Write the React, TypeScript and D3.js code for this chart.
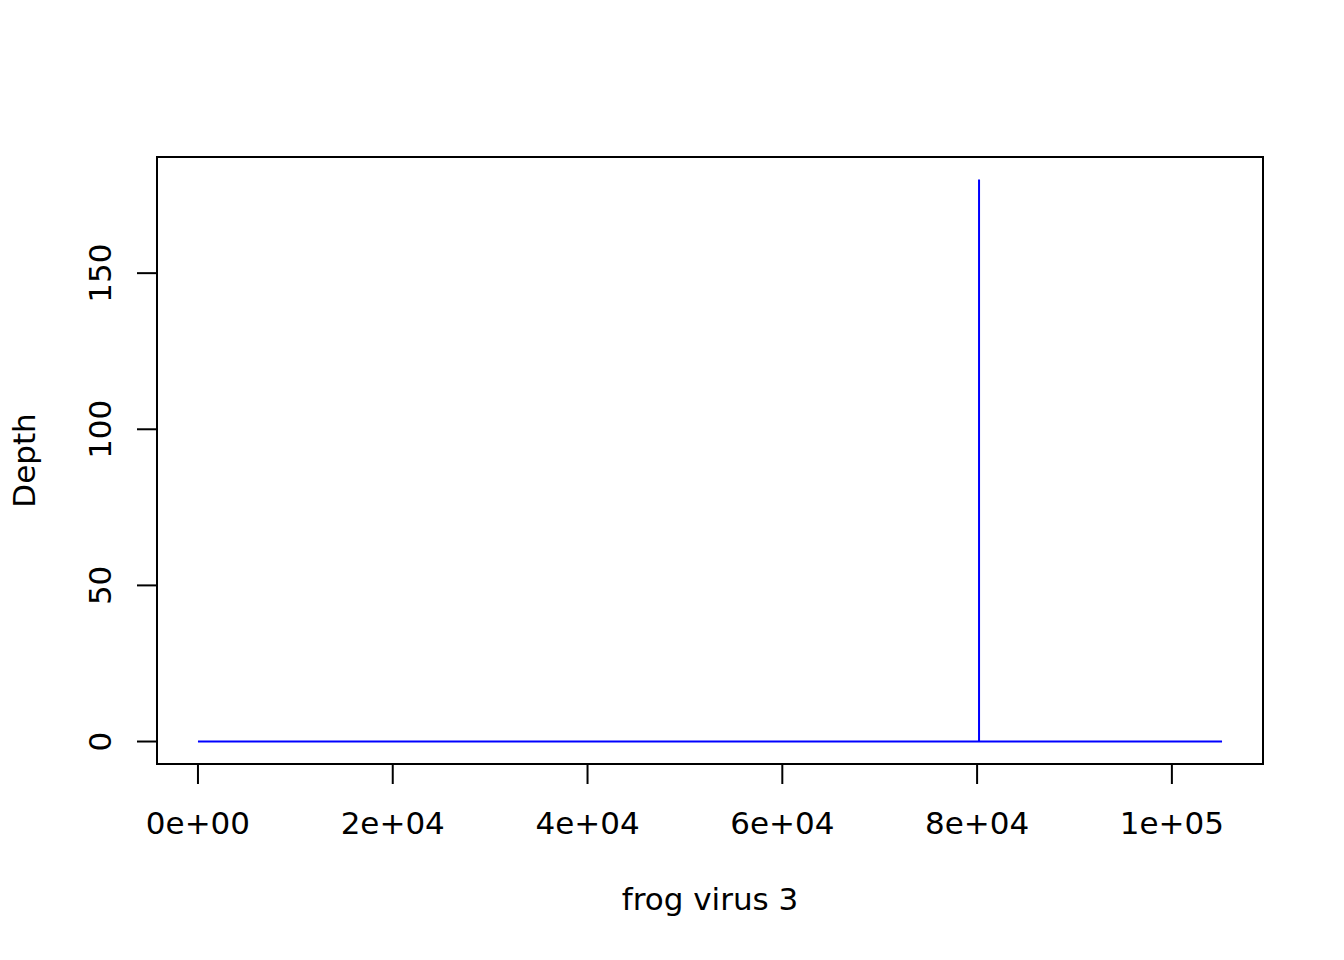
import React from "react";
import * as d3 from "d3";

const positions: number[] = [0, 80199, 80200, 80201, 105150];
const depths: number[] = [0, 0, 180, 0, 0];
const xTicks: number[] = [0, 20000, 40000, 60000, 80000, 100000];
const xTickLabels: string[] = ["0e+00", "2e+04", "4e+04", "6e+04", "8e+04", "1e+05"];
const yTicks: number[] = [0, 50, 100, 150];
const xLabel = "frog virus 3";
const yLabel = "Depth";

const W = 1344, H = 960;
const box = { left: 157, right: 1263, top: 157, bottom: 764 };
const FONT = "DejaVu Sans";
const FS = 31;

export default function App() {
  const xmin = d3.min(positions)!, xmax = d3.max(positions)!;
  const ymin = d3.min(depths)!, ymax = d3.max(depths)!;
  const xpad = (xmax - xmin) * 0.04, ypad = (ymax - ymin) * 0.04;
  const x = d3.scaleLinear().domain([xmin - xpad, xmax + xpad]).range([box.left, box.right]);
  const y = d3.scaleLinear().domain([ymin - ypad, ymax + ypad]).range([box.bottom, box.top]);
  const line = d3.line<number>().x((_, i) => x(positions[i])).y((d) => y(d));
  const tickLen = 20;
  return (
    <svg width={W} height={H} style={{ display: "block", position: "absolute", left: 0, top: 0 }} fontFamily={FONT}>
      <rect x={0} y={0} width={W} height={H} fill="white" />
      <rect x={box.left} y={box.top} width={box.right - box.left} height={box.bottom - box.top} fill="none" stroke="black" strokeWidth={2} />
      <path d={line(depths) || ""} fill="none" stroke="blue" strokeWidth={2} />
      <line x1={x(xTicks[0])} x2={x(xTicks[xTicks.length - 1])} y1={box.bottom} y2={box.bottom} stroke="black" strokeWidth={2} />
      {xTicks.map((t, i) => (
        <g key={t}>
          <line x1={x(t)} x2={x(t)} y1={box.bottom} y2={box.bottom + tickLen} stroke="black" strokeWidth={2} />
          <text x={x(t)} y={834} textAnchor="middle" fontSize={FS}>{xTickLabels[i]}</text>
        </g>
      ))}
      <line x1={box.left} x2={box.left} y1={y(yTicks[0])} y2={y(yTicks[yTicks.length - 1])} stroke="black" strokeWidth={2} />
      {yTicks.map((t) => (
        <g key={t}>
          <line x1={box.left} x2={box.left - tickLen} y1={y(t)} y2={y(t)} stroke="black" strokeWidth={2} />
          <text transform={`translate(111,${y(t)}) rotate(-90)`} textAnchor="middle" fontSize={FS}>{t}</text>
        </g>
      ))}
      <text x={(box.left + box.right) / 2} y={910} textAnchor="middle" fontSize={FS}>{xLabel}</text>
      <text transform={`translate(35,${(box.top + box.bottom) / 2}) rotate(-90)`} textAnchor="middle" fontSize={FS}>{yLabel}</text>
    </svg>
  );
}
